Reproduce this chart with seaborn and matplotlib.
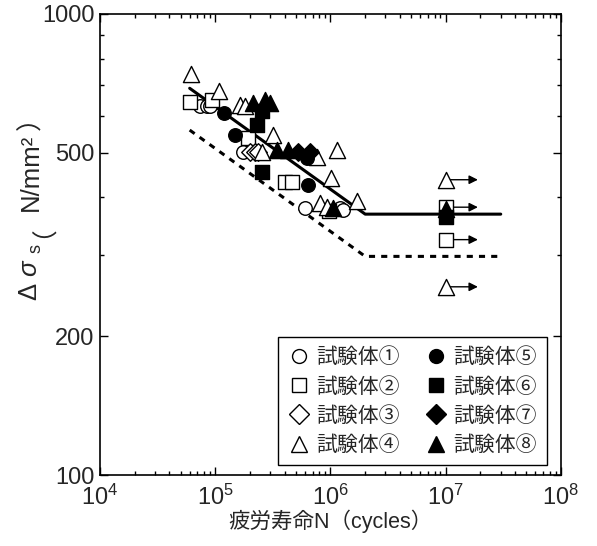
import matplotlib
matplotlib.use('Agg')
import matplotlib.pyplot as plt
import seaborn as sns
import pandas as pd
from matplotlib.lines import Line2D
from matplotlib.ticker import LogLocator, FixedLocator, FixedFormatter, NullFormatter

# values: fatigue life N (cycles), stress range (N/mm2)
labels = ['試験体①', '試験体②', '試験体③', '試験体④',
          '試験体⑤', '試験体⑥', '試験体⑦', '試験体⑧']
markers = ['o', 's', 'D', '^', 'o', 's', 'D', '^']
filled = [False, False, False, False, True, True, True, True]

s1_N = [7.4e4, 8.4e4, 9.0e4, 1.75e5, 6.0e5, 1.21e6, 1.29e6]
s1_S = [630, 630, 630, 503, 379, 379, 376]
s2_N = [6.0e4, 9.3e4, 1.91e5, 4.03e5, 4.63e5, 9.7e5, 1e7, 1e7]
s2_S = [645, 651, 537, 432, 432, 373, 381, 324]
s3_N = [2.0e5, 2.21e5, 2.36e5]
s3_S = [503, 503, 503]
s4_N = [6.2e4, 1.08e5, 1.64e5, 1.81e5, 2.53e5, 3.19e5, 7.6e5, 8.1e5,
        9.3e5, 1.02e6, 1.13e6, 1.69e6, 1e7, 1e7]
s4_S = [740, 679, 635, 630, 503, 546, 490, 389, 382, 440, 507, 392, 437, 256]
s5_N = [1.2e5, 1.48e5, 6.2e5, 6.4e5]
s5_S = [611, 546, 486, 426]
s6_N = [2.29e5, 2.56e5, 2.53e5, 1e7]
s6_S = [575, 615, 455, 363]
s7_N = [5.26e5, 6.64e5]
s7_S = [503, 503]
s8_N = [2.14e5, 2.7e5, 2.99e5, 3.41e5, 4.3e5, 1.06e6, 1e7]
s8_S = [640, 651, 640, 507, 507, 379, 378]

series_N = [s1_N, s2_N, s3_N, s4_N, s5_N, s6_N, s7_N, s8_N]
series_S = [s1_S, s2_S, s3_S, s4_S, s5_S, s6_S, s7_S, s8_S]

# run-outs (not failed) marked with arrows
runout_N = 1e7
arrow_end_N = 1.9e7
arrow_S = [437, 381, 324, 256]

# design curves
curve_N = [6.0e4, 2.0e6, 3.0e7]
curve_S = [690, 368, 368]
lower_N = [6.0e4, 2.0e6, 3.0e7]
lower_S = [560, 298, 298]

sns.set_style('ticks')
plt.rcParams['font.family'] = ['Liberation Sans', 'Noto Sans CJK JP', 'DejaVu Sans']
plt.rcParams['mathtext.fontset'] = 'custom'
plt.rcParams['mathtext.rm'] = 'Liberation Sans'
plt.rcParams['mathtext.it'] = 'Liberation Sans:italic'

fig = plt.figure(figsize=(5.97, 5.46), dpi=100)
ax = fig.add_axes([0.1675, 0.13, 0.7722, 0.8444])

sns.lineplot(x=curve_N, y=curve_S, color='black', lw=2.2, sort=False,
             estimator=None, ax=ax, zorder=2)
sns.lineplot(x=lower_N, y=lower_S, color='black', lw=2.2, sort=False,
             estimator=None, ax=ax, zorder=2, linestyle=(0, (2, 2)))

for s in arrow_S:
    ax.annotate('', xy=(arrow_end_N, s), xytext=(runout_N, s),
                arrowprops=dict(arrowstyle='-|>', color='black', lw=1.0,
                                mutation_scale=13, shrinkA=0, shrinkB=0),
                zorder=3)

for i in range(8):
    df = pd.DataFrame({'N': series_N[i], 'S': series_S[i]})
    size = 135 if markers[i] == '^' else (80 if markers[i] == 'D' else 95)
    sns.scatterplot(data=df, x='N', y='S', marker=markers[i], s=size,
                    color='black' if filled[i] else 'white',
                    edgecolor='black', linewidth=1.0, ax=ax,
                    zorder=4 + (1 if filled[i] else 0), legend=False)

ax.set_xscale('log')
ax.set_yscale('log')
ax.set_xlim(1e4, 1e8)
ax.set_ylim(100, 1000)

ax.yaxis.set_major_locator(FixedLocator([100, 200, 500, 1000]))
ax.yaxis.set_major_formatter(FixedFormatter(['100', '200', '500', '1000']))
ax.yaxis.set_minor_locator(FixedLocator([300, 400, 600, 700, 800, 900]))
ax.yaxis.set_minor_formatter(NullFormatter())
ax.xaxis.set_major_locator(LogLocator(base=10, numticks=10))
ax.xaxis.set_minor_locator(LogLocator(base=10, subs=range(2, 10), numticks=20))
ax.xaxis.set_minor_formatter(NullFormatter())

ax.tick_params(which='both', direction='in', top=True, right=True,
               color='black', labelsize=17, width=1.0)
ax.tick_params(which='major', length=6)
ax.tick_params(axis='x', which='major', pad=7)
ax.tick_params(axis='y', which='major', pad=4)
ax.tick_params(which='minor', length=3)
for sp in ax.spines.values():
    sp.set_color('black')
    sp.set_linewidth(1.2)

ax.set_xlabel('疲労寿命N（cycles）', fontsize=15.5, labelpad=0)
ax.set_ylabel('')

# y label built piece by piece (math part, then full-width brackets)
fig.canvas.draw()
r = fig.canvas.get_renderer()
ylab_x = 31 / 597
y0 = 301
pieces = [(r'Δ $\sigma\ {}_{\rm s}$', ['Liberation Sans'], 0),
          ('（', ['Noto Sans CJK JP'], 5),
          ('N/mm²', ['Liberation Sans'], 2),
          ('）', ['Noto Sans CJK JP'], 3)]
cur = fig.bbox.height - y0
for txt, fam, gap in pieces:
    t = fig.text(ylab_x, (cur + gap) / fig.bbox.height, txt, rotation=90,
                 ha='center', va='bottom', fontsize=18.5, family=fam)
    cur = t.get_window_extent(r).y1

handles = []
for i in range(8):
    ms = 12 if markers[i] == '^' else 10
    handles.append(Line2D([], [], linestyle='none', marker=markers[i],
                          markersize=ms, markeredgewidth=1.0,
                          markeredgecolor='black',
                          markerfacecolor='black' if filled[i] else 'white'))
leg = ax.legend(handles, labels, ncol=2, loc='lower right',
                bbox_to_anchor=(0.97, 0.021), fontsize=15, frameon=True,
                fancybox=False, edgecolor='black', framealpha=1,
                handlelength=1.0, handletextpad=0.35, columnspacing=1.2,
                labelspacing=0.45, borderpad=0.5, borderaxespad=0)
leg.get_frame().set_linewidth(1.0)

fig.savefig('out.png', dpi=100)
